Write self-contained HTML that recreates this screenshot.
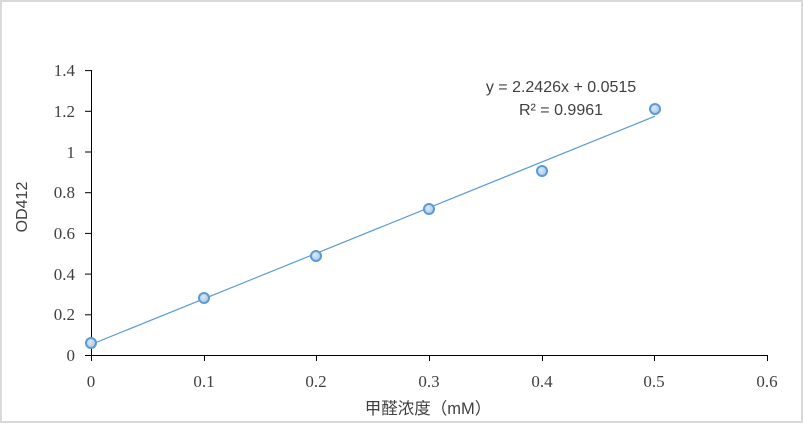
<!DOCTYPE html>
<html><head><meta charset="utf-8"><style>body{margin:0;background:#fff}</style></head><body>
<svg width="803" height="423" viewBox="0 0 803 423" xmlns="http://www.w3.org/2000/svg">
<defs><radialGradient id="g" cx="0.4" cy="0.4" r="0.6"><stop offset="0" stop-color="#dbe8f7"/><stop offset="1" stop-color="#a9c8ec"/></radialGradient></defs>
<rect x="1" y="1" width="801" height="421" fill="#fff" stroke="#d9d9d9" stroke-width="2"/>
<g stroke="#000" stroke-width="1" fill="none">
<line x1="91.5" y1="70" x2="91.5" y2="355.5"/>
<line x1="91" y1="355.5" x2="767" y2="355.5"/>
<line x1="85" y1="355.5" x2="91" y2="355.5"/><line x1="85" y1="314.8" x2="91" y2="314.8"/><line x1="85" y1="274.1" x2="91" y2="274.1"/><line x1="85" y1="233.4" x2="91" y2="233.4"/><line x1="85" y1="192.7" x2="91" y2="192.7"/><line x1="85" y1="152" x2="91" y2="152"/><line x1="85" y1="111.3" x2="91" y2="111.3"/><line x1="85" y1="70.6" x2="91" y2="70.6"/>
<line x1="91.5" y1="355" x2="91.5" y2="361"/><line x1="204.5" y1="355" x2="204.5" y2="361"/><line x1="316.5" y1="355" x2="316.5" y2="361"/><line x1="429.5" y1="355" x2="429.5" y2="361"/><line x1="542.5" y1="355" x2="542.5" y2="361"/><line x1="654.5" y1="355" x2="654.5" y2="361"/><line x1="767.5" y1="355" x2="767.5" y2="361"/>
</g>
<g font-family="Liberation Serif, serif" font-size="17" fill="#404040" text-anchor="end">
<text x="75" y="361">0</text><text x="75" y="320">0.2</text><text x="75" y="280">0.4</text><text x="75" y="239">0.6</text><text x="75" y="198">0.8</text><text x="75" y="158">1</text><text x="75" y="117">1.2</text><text x="75" y="76">1.4</text>
</g>
<g font-family="Liberation Serif, serif" font-size="17" fill="#404040" text-anchor="middle">
<text x="91" y="387">0</text><text x="204" y="387">0.1</text><text x="316" y="387">0.2</text><text x="429" y="387">0.3</text><text x="542" y="387">0.4</text><text x="654" y="387">0.5</text><text x="767" y="387">0.6</text>
</g>
<text x="428" y="414" font-family="Liberation Sans, Noto Sans CJK SC, sans-serif" font-size="16.5" fill="#404040" text-anchor="middle">甲醛浓度（mM）</text>
<text transform="translate(27,207) rotate(-90)" font-family="Liberation Sans, sans-serif" font-size="16" fill="#404040" text-anchor="middle">OD412</text>
<line x1="91" y1="344.5" x2="655" y2="116.2" stroke="#5b9bd5" stroke-width="1.2"/>
<g fill="url(#g)" stroke="#5b9bd5" stroke-width="2">
<circle cx="91" cy="343" r="5"/><circle cx="204" cy="298" r="5"/><circle cx="316" cy="256" r="5"/><circle cx="429" cy="209" r="5"/><circle cx="542" cy="171" r="5"/><circle cx="655" cy="109" r="5"/>
</g>
<g font-family="Liberation Sans, sans-serif" font-size="16" fill="#404040" text-anchor="middle">
<text x="561" y="92">y = 2.2426x + 0.0515</text>
<text x="561" y="115">R² = 0.9961</text>
</g>
</svg>
</body></html>
